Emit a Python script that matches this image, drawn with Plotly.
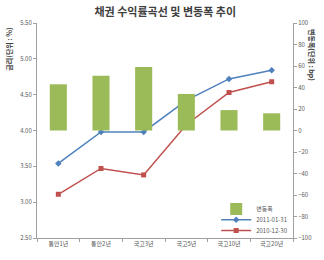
import plotly.graph_objects as go

categories = ["통안1년", "통안2년", "국고3년", "국고5년", "국고10년", "국고20년"]
rate_20110131 = [3.54, 3.98, 3.98, 4.42, 4.72, 4.84]
rate_20101230 = [3.11, 3.47, 3.38, 4.08, 4.53, 4.68]
change_bp = [43, 51, 59, 34, 19, 16]

FONT = "Noto Sans CJK KR"
GRAY = "#595959"

fig = go.Figure()
fig.add_trace(go.Bar(x=categories, y=change_bp, name="변동폭", yaxis="y2", legend="legend",
                     marker=dict(color="#9BBB59", line=dict(width=0)), width=0.4))
fig.add_trace(go.Scatter(x=categories, y=rate_20110131, name="2011-01-31", mode="lines+markers",
                         legend="legend2",
                         line=dict(color="#4F81BD", width=1.5),
                         marker=dict(symbol="diamond", size=5, color="#4F81BD")))
fig.add_trace(go.Scatter(x=categories, y=rate_20101230, name="2010-12-30", mode="lines+markers",
                         legend="legend3",
                         line=dict(color="#C0504D", width=1.5),
                         marker=dict(symbol="square", size=5, color="#C0504D")))

leg = dict(xanchor="left", yanchor="middle", bgcolor="rgba(0,0,0,0)",
           font=dict(size=6, color=GRAY), itemwidth=30)

fig.update_layout(
    width=324, height=260,
    margin=dict(l=37, r=29, t=23, b=22),
    paper_bgcolor="white", plot_bgcolor="white",
    font=dict(family=FONT, size=6, color=GRAY),
    showlegend=True,
    title=dict(text="<b>채권 수익률곡선 및 변동폭 추이</b>", x=0.51, xanchor="center",
               y=0.955, yanchor="middle", font=dict(family=FONT, size=11, color="#404040")),
    legend=dict(leg, x=0.70, y=0.135),
    legend2=dict(leg, x=0.70, y=0.085),
    legend3=dict(leg, x=0.70, y=0.035),
    xaxis=dict(showline=True, linecolor="#A0A0A0", linewidth=1, ticks="outside",
               tickson="boundaries", ticklen=3, tickcolor="#A0A0A0",
               tickfont=dict(size=6, color=GRAY), showgrid=False),
    yaxis=dict(range=[2.5, 5.5], dtick=0.5, tickformat=".2f", showline=True,
               linecolor="#A0A0A0", ticks="outside", ticklen=3, tickcolor="#A0A0A0",
               showgrid=False, zeroline=False, tickfont=dict(size=6, color=GRAY)),
    yaxis2=dict(range=[-100, 100], dtick=20, overlaying="y", side="right", showline=True,
                linecolor="#A0A0A0", ticks="outside", ticklen=3, tickcolor="#A0A0A0",
                showgrid=False, zeroline=False, tickfont=dict(size=6, color=GRAY)),
)
fig.add_annotation(text="<b>금리(단위 : %)</b>", textangle=-90, x=-0.11, y=0.88,
                   xref="paper", yref="paper", xanchor="center", yanchor="middle",
                   showarrow=False, font=dict(family=FONT, size=7, color="#404040"))
fig.add_annotation(text="<b>변동폭(단위 : bp)</b>", textangle=90, x=1.075, y=0.85,
                   xref="paper", yref="paper", xanchor="center", yanchor="middle",
                   showarrow=False, font=dict(family=FONT, size=7, color="#404040"))

fig.write_html("out.html")
